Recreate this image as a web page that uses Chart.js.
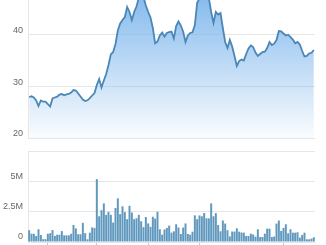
<!DOCTYPE html>
<html><head><meta charset="utf-8">
<script src="https://cdn.jsdelivr.net/npm/chart.js@4.4.1/dist/chart.umd.min.js"></script>
<style>
html,body{margin:0;padding:0;background:#fff;width:326px;height:245px;overflow:hidden}
#p{position:absolute;left:0;top:0;width:326px;height:140px}
#v{position:absolute;left:0;top:151px;width:326px;height:94px}
</style></head><body>
<div id="p"><canvas id="pc"></canvas></div>
<div id="v"><canvas id="vc"></canvas></div>
<script>
const price = [27.94,28.07,27.84,27.26,26.2,27.26,27.03,27.03,26.58,26.1,
27.65,27.84,28.0,28.42,28.52,28.27,28.46,28.52,28.8,29.29,
29.2,28.62,28.03,27.45,27.16,27.3,27.74,28.23,28.71,30.26,
31.4,29.78,31.13,32.39,34.13,36.2,36.65,38.2,40.81,42.17,
42.85,43.43,45.36,44.4,42.85,44.4,45.46,47.2,47.6,47.3,
45.65,44.4,43.33,41.3,38.33,38.68,39.85,40.43,39.65,40.33,
40.52,40.62,39.26,41.68,42.56,41.78,40.58,38.59,39.85,40.33,
40.46,41.88,46.2,47.0,47.4,47.6,47.5,47.1,44.4,42.27,
44.4,43.9,44.2,41.3,38.59,37.42,38.97,37.72,35.88,33.94,
34.91,35.2,35.0,36.26,37.33,37.91,37.62,36.55,35.88,36.26,
36.65,36.71,37.42,38.59,38.0,38.26,38.97,40.72,40.66,40.23,
39.85,40.0,39.55,39.07,38.33,38.59,38.1,36.84,35.78,35.88,
36.36,36.51,37.04];
const volumeM = [0.97,0.68,0.68,0.5,1.05,0.58,0.23,0.23,0.68,0.72,
0.98,0.5,0.6,0.6,0.9,0.55,0.55,0.55,0.68,1.4,
1.12,0.64,0.64,1.58,0.73,0.22,0.77,1.2,1.16,5.18,
2.12,2.62,3.18,2.24,2.48,2.24,1.6,2.8,3.6,2.3,
2.94,2.46,1.88,2.98,2.43,1.88,1.96,2.24,1.71,1.23,
2.06,1.53,1.25,2.08,1.93,2.49,1.05,0.6,1.03,1.16,
1.35,0.77,0.88,1.46,1.19,0.66,1.19,1.53,0.66,0.6,
0.85,2.2,1.88,2.19,2.12,2.39,1.95,1.95,3.18,2.12,
2.38,1.4,0.88,1.77,1.52,0.97,0.46,0.86,0.86,1.13,
0.85,0.78,0.77,0.5,0.5,0.69,0.62,0.44,1.05,0.41,
0.41,0.69,1.1,1.1,0.41,0.45,1.52,1.77,0.91,1.16,
1.46,0.72,1.05,0.77,0.77,0.8,0.36,0.58,0.77,0.22,
0.22,0.28,0.39];
const days = price.map((_, i) => 'D' + (i + 1));
const priceTicks = [20, 30, 40];
const volumeTicks = [0, 2.5, 5, 7.5];
const volumeTickLabels = ['0', '2.5M', '5M', ''];
const monthStarts = [8, 29, 51, 73, 109];

const FONT = {family: 'Liberation Sans, Arial, sans-serif', size: 9};
const GRID = '#e6e6e6';
const TXT = '#666';

function fixY(scale) { scale.width = 28; scale.paddingTop = 0; scale.paddingBottom = 0; }
function fixX(scale) { scale.paddingLeft = 0; scale.paddingRight = 0; }

new Chart(document.getElementById('pc'), {
  type: 'line',
  data: {labels: days, datasets: [{
    data: price,
    borderColor: '#4a87b6',
    borderWidth: 1.8,
    pointRadius: 0,
    tension: 0,
    fill: 'start',
    backgroundColor: (ctx) => {
      const a = ctx.chart.chartArea;
      if (!a) return 'rgba(124,181,236,0.5)';
      const g = ctx.chart.ctx.createLinearGradient(0, a.top, 0, a.bottom);
      g.addColorStop(0, 'rgba(124,181,236,0.9)');
      g.addColorStop(1, 'rgba(124,181,236,0.04)');
      return g;
    }
  }]},
  options: {
    responsive: true, maintainAspectRatio: false, animation: false,
    layout: {padding: {left: 0, right: 11, top: 0, bottom: 2}},
    plugins: {legend: {display: false}, tooltip: {enabled: false}},
    scales: {
      x: {display: false, offset: true, afterFit: fixX},
      y: {
        min: 20, max: 46.72,
        afterBuildTicks: (s) => { s.ticks = priceTicks.map(v => ({value: v})); },
        afterFit: fixY,
        grid: {color: GRID, drawTicks: false},
        border: {display: true, color: GRID},
        ticks: {font: FONT, color: TXT, padding: 5, labelOffset: -4}
      }
    }
  }
});

new Chart(document.getElementById('vc'), {
  type: 'bar',
  data: {labels: days, datasets: [{
    data: volumeM,
    backgroundColor: '#6199be',
    borderWidth: 0,
    barPercentage: 0.85,
    categoryPercentage: 1
  }]},
  options: {
    responsive: true, maintainAspectRatio: false, animation: false,
    layout: {padding: {left: 0, right: 11, top: 0, bottom: 0}},
    plugins: {legend: {display: false}, tooltip: {enabled: false}},
    scales: {
      x: {
        offset: true,
        afterBuildTicks: (s) => { s.ticks = monthStarts.map(v => ({value: v})); },
        afterFit: fixX,
        grid: {offset: false, drawOnChartArea: false, drawTicks: true, tickLength: 3, color: '#c8c8c8'},
        border: {display: true, color: GRID},
        ticks: {display: false}
      },
      y: {
        min: 0, max: 7.5,
        afterBuildTicks: (s) => { s.ticks = volumeTicks.map(v => ({value: v})); },
        afterFit: fixY,
        grid: {color: GRID, drawTicks: false},
        border: {display: true, color: GRID},
        ticks: {font: FONT, color: TXT, padding: 5, labelOffset: -5,
          callback: (v) => volumeTickLabels[volumeTicks.indexOf(v)] ?? ''}
      }
    }
  }
});
</script>
</body></html>
